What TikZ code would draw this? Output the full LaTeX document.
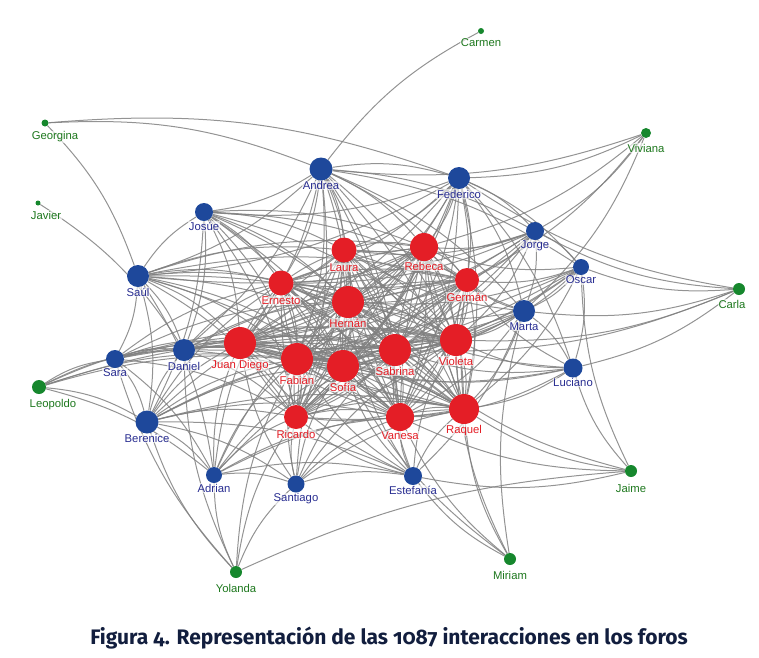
\documentclass[tikz,border=0pt]{standalone}
\usepackage{fontspec}
\setmainfont{Liberation Sans}
\newfontfamily\capfont[Numbers=OldStyle]{Fira Sans}
\usetikzlibrary{backgrounds}
\definecolor{nred}{RGB}{228,30,38}
\definecolor{nblue}{RGB}{30,72,155}
\definecolor{ngreen}{RGB}{22,135,45}
\definecolor{lblue}{RGB}{40,45,145}
\definecolor{lgreen}{RGB}{30,120,30}
\definecolor{edgec}{RGB}{128,128,128}
\definecolor{capc}{RGB}{18,30,62}
\begin{document}
\begin{tikzpicture}[x=1pt,y=-1pt,
  base/.style={circle,inner sep=0pt,minimum size=#1,label distance=1pt},
  rnode/.style={base=#1,fill=nred},
  bnode/.style={base=#1,fill=nblue},
  gnode/.style={base=#1,fill=ngreen},
  lab/.style={font=\fontsize{11.3}{12}\selectfont,inner sep=0.6pt,fill=white,fill opacity=0.6,text opacity=1},
  rl/.style={lab,text=nred},
  bl/.style={lab,text=lblue},
  gl/.style={lab,text=lgreen},
  edge/.style={draw=edgec,line width=1pt,opacity=0.85}]
\path[use as bounding box] (0,0) rectangle (759,657);
% green
\node[gnode=6] (CM) at (481,31) {};
\node[gl] (CMl) at (481,43) {Carmen};
\node[gnode=7] (GG) at (45,123) {};
\node[gl] (GGl) at (55,137) {Georgina};
\node[gnode=5] (JV) at (38,203) {};
\node[gl] (JVl) at (46,215) {Javier};
\node[gnode=10] (VV) at (646,133) {};
\node[gl] (VVl) at (646,148) {Viviana};
\node[gnode=12] (CL) at (739,289) {};
\node[gl] (CLl) at (732,304) {Carla};
\node[gnode=14] (LE) at (39,387) {};
\node[gl] (LEl) at (53,405) {Leopoldo};
\node[gnode=12] (JA) at (631,471) {};
\node[gl] (JAl) at (631,488) {Jaime};
\node[gnode=12] (YO) at (236,572) {};
\node[gl] (YOl) at (236,588) {Yolanda};
\node[gnode=12] (MI) at (510,559) {};
\node[gl] (MIl) at (510,575) {Miriam};
% blue
\node[bnode=23,label={[bl]below:Andrea}] (AN) at (321,169) {};
\node[bnode=22,label={[bl]below:Federico}] (FE) at (459,178) {};
\node[bnode=18,label={[bl]below:Josúe}] (JO) at (204,212) {};
\node[bnode=18,label={[bl]below:Jorge}] (JR) at (535,231) {};
\node[bnode=22,label={[bl]below:Saúl}] (SU) at (138,276) {};
\node[bnode=16,label={[bl]below:Oscar}] (OS) at (581,267) {};
\node[bnode=22,label={[bl]below:Marta}] (MA) at (524,311) {};
\node[bnode=18,label={[bl]below:Sara}] (SR) at (115,359) {};
\node[bnode=22,label={[bl]below:Daniel}] (DA) at (184,350) {};
\node[bnode=19,label={[bl]below:Luciano}] (LU) at (573,368) {};
\node[bnode=23,label={[bl]below:Berenice}] (BE) at (147,422) {};
\node[bnode=16,label={[bl]below:Adrian}] (AD) at (214,475) {};
\node[bnode=17,label={[bl]below:Santiago}] (ST) at (296,484) {};
\node[bnode=18,label={[bl]below:Estefanía}] (ES) at (413,476) {};
% red
\node[rnode=25,label={[rl]below:Laura}] (LA) at (344,250) {};
\node[rnode=28,label={[rl]below:Rebeca}] (RE) at (424,247) {};
\node[rnode=25,label={[rl]below:Ernesto}] (ER) at (281,283) {};
\node[rnode=24,label={[rl]below:Germán}] (GE) at (467,280) {};
\node[rnode=32,label={[rl]below:Hernán}] (HE) at (348,302) {};
\node[rnode=32,label={[rl]below:Juan Diego}] (JD) at (240,343) {};
\node[rnode=32,label={[rl]below:Fabián}] (FA) at (297,359) {};
\node[rnode=32,label={[rl]below:Sofía}] (SO) at (343,366) {};
\node[rnode=32,label={[rl]below:Sabrina}] (SA) at (395,350) {};
\node[rnode=32,label={[rl]below:Violeta}] (VI) at (456,340) {};
\node[rnode=24,label={[rl]below:Ricardo}] (RI) at (296,417) {};
\node[rnode=28,label={[rl]below:Vanesa}] (VA) at (400,417) {};
\node[rnode=30,label={[rl]below:Raquel}] (RQ) at (464,409) {};
% caption
\node[font=\capfont\bfseries\fontsize{21}{24}\selectfont,text=capc] (cap) at (389,638) {Figura 4. Representación de las 1087 interacciones en los foros};
\begin{scope}[on background layer]
\foreach \a [count=\i] in {LA,RE,ER,GE,HE,JD,FA,SO,SA,VI,RI,VA,RQ}{
  \foreach \b [count=\j] in {LA,RE,ER,GE,HE,JD,FA,SO,SA,VI,RI,VA,RQ}{
    \ifnum\j>\i \draw[edge] (\a) to[bend left=12] (\b); \draw[edge] (\a) to[bend right=6] (\b); \fi
  }
}
\foreach \a/\list in {
  AN/{LA,RE,ER,HE,JD,FA,SO,SA,VI,GE,RI,VA,RQ},
  FE/{LA,RE,GE,HE,SA,VI,RQ,JD,FA,SO,VA,ER,RI},
  JO/{ER,HE,JD,FA,SO,SA,LA,VI,RI,RE,GE,VA},
  JR/{RE,GE,HE,SA,VI,LA,ER,FA,JD,SO},
  SU/{ER,HE,JD,FA,SO,SA,RI,VI,LA,RE,GE,VA},
  OS/{GE,VI,SA,RQ,HE,RE,SO,FA,JD},
  MA/{GE,VI,SA,RQ,HE,RE,SO,FA,VA,JD,LA},
  SR/{JD,FA,SO,ER,HE,RI,SA,VI},
  DA/{JD,FA,SO,SA,HE,ER,VI,RI,VA,RQ,GE},
  LU/{VI,RQ,SA,VA,GE,SO,HE,FA},
  BE/{JD,FA,SO,RI,SA,HE,VA,RQ,ER,VI},
  AD/{JD,FA,RI,SO,SA,HE,VA,ER,RQ},
  ST/{FA,SO,RI,JD,SA,VA,HE,RQ,VI},
  ES/{SO,SA,VA,RQ,RI,FA,VI,HE,JD},
  AN/{FE,JO,SU,JR,DA,OS,MA},
  FE/{JR,OS,MA,LU,JO,SU},
  JR/{OS,MA,SU}, OS/{MA,LU}, MA/{LU,ES},
  SU/{SR,BE,DA,JO,AD}, SR/{DA,BE,AD}, BE/{AD,ST,DA,ES}, AD/{ST,ES}, ST/{ES}, JO/{DA,BE},
  AN/{CM}, GG/{AN,FE,SU}, JV/{DA},
  VV/{FE,AN,RE,GE,MA,JR},
  CL/{FE,JR,MA,LU,VI,SA,OS},
  LE/{SR,DA,JD,FA,SO,BE,AD,SA},
  JA/{RQ,VA,ES,OS,LU,SA},
  MI/{ES,RQ,VA,VI,SO,MA},
  YO/{BE,SR,AD,ST,RI,DA,FA}}{
  \foreach \b in \list { \draw[edge] (\a) to[bend left=12] (\b); }
}
\draw[edge] (YO) to[bend left=10] (JA);
\end{scope}
\end{tikzpicture}
\end{document}
